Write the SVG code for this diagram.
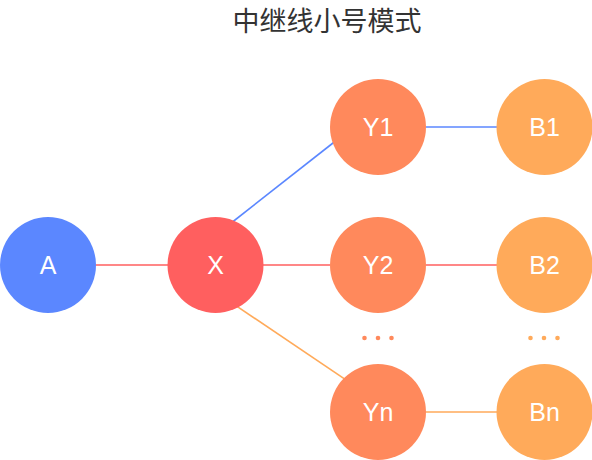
<svg xmlns="http://www.w3.org/2000/svg" width="592" height="460" viewBox="0 0 592 460">
<style>
.t{font-family:"Liberation Sans","Noto Sans CJK SC",sans-serif;font-size:25px;fill:#fff;text-anchor:middle}
.title{font-family:"Noto Sans CJK SC","Liberation Sans",sans-serif;font-size:27px;fill:#333;text-anchor:middle}
.l{stroke-width:1.6;fill:none}
</style>
<rect width="592" height="460" fill="#fff"/>
<text class="title" x="327" y="31">中继线小号模式</text>
<g id="connectors">
<line class="l" x1="96" y1="265" x2="168" y2="265" stroke="#FF5F5F"/>
<line class="l" x1="228" y1="225.5" x2="340" y2="137.5" stroke="#5B87FF"/>
<line class="l" x1="263" y1="265" x2="330" y2="265" stroke="#FF5F5F"/>
<line class="l" x1="230" y1="301.6" x2="350" y2="382.7" stroke="#FFAA5A"/>
<line class="l" x1="426" y1="127" x2="497" y2="127" stroke="#5B87FF"/>
<line class="l" x1="426" y1="265" x2="497" y2="265" stroke="#FF5F5F"/>
<line class="l" x1="426" y1="412" x2="497" y2="412" stroke="#FFAA5A"/>
</g>
<g id="A"><circle cx="48" cy="265" r="48" fill="#5B87FF"/><text class="t" x="48" y="274">A</text></g>
<g id="X"><circle cx="215.5" cy="265" r="48" fill="#FF5F5F"/><text class="t" x="215.5" y="274">X</text></g>
<g id="Y1"><circle cx="378" cy="127" r="48" fill="#FF895C"/><text class="t" x="378" y="136">Y1</text></g>
<g id="Y2"><circle cx="378" cy="265" r="48" fill="#FF895C"/><text class="t" x="378" y="274">Y2</text></g>
<g id="Yn"><circle cx="378" cy="412" r="48" fill="#FF895C"/><text class="t" x="378" y="421">Yn</text></g>
<g id="B1"><circle cx="544.5" cy="127" r="48" fill="#FFAA5A"/><text class="t" x="544.5" y="136">B1</text></g>
<g id="B2"><circle cx="544.5" cy="265" r="48" fill="#FFAA5A"/><text class="t" x="544.5" y="274">B2</text></g>
<g id="Bn"><circle cx="544.5" cy="412" r="48" fill="#FFAA5A"/><text class="t" x="544.5" y="421">Bn</text></g>
<g id="dots1" fill="#FF895C"><circle cx="364.5" cy="338" r="2.3"/><circle cx="378" cy="338" r="2.3"/><circle cx="391.5" cy="338" r="2.3"/></g>
<g id="dots2" fill="#FFAA5A"><circle cx="530.5" cy="338" r="2.3"/><circle cx="544" cy="338" r="2.3"/><circle cx="557.5" cy="338" r="2.3"/></g>
</svg>
